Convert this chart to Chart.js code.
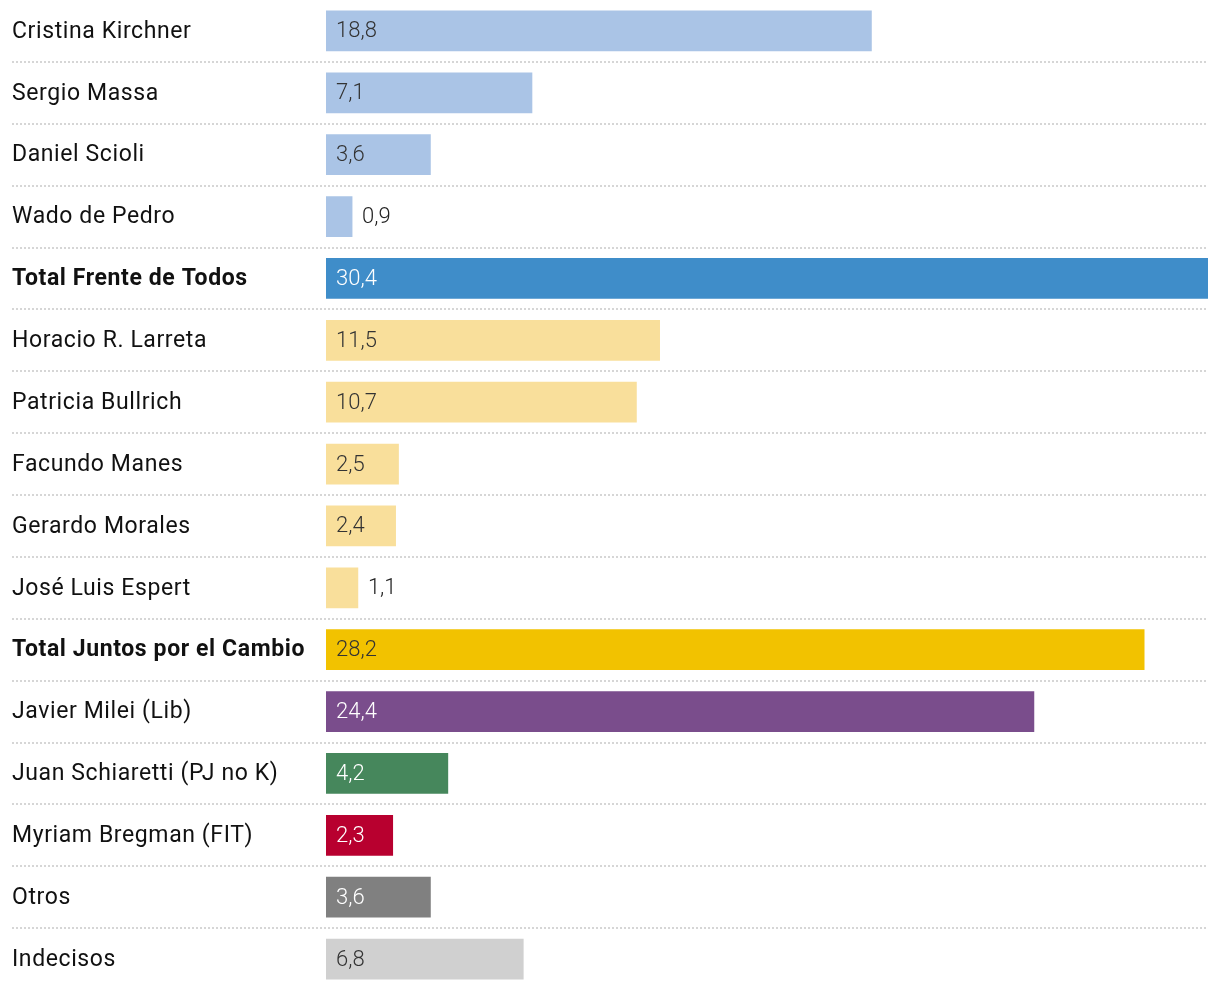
<!DOCTYPE html>
<html><head><meta charset="utf-8">
<script src="https://cdn.jsdelivr.net/npm/chart.js@4.4.0/dist/chart.umd.min.js"></script>
<style>html,body{margin:0;padding:0;background:#fff;}#wrap{width:1220px;height:990px;}</style>
</head><body><div id="wrap"><canvas id="c" width="1220" height="990"></canvas></div>
<script>
const categories = ["Cristina Kirchner","Sergio Massa","Daniel Scioli","Wado de Pedro","Total Frente de Todos","Horacio R. Larreta","Patricia Bullrich","Facundo Manes","Gerardo Morales","José Luis Espert","Total Juntos por el Cambio","Javier Milei (Lib)","Juan Schiaretti (PJ no K)","Myriam Bregman (FIT)","Otros","Indecisos"];
const values = [18.8,7.1,3.6,0.9,30.4,11.5,10.7,2.5,2.4,1.1,28.2,24.4,4.2,2.3,3.6,6.8];
const barColors = ["#aac4e6","#aac4e6","#aac4e6","#aac4e6","#3f8dc9","#f9df9b","#f9df9b","#f9df9b","#f9df9b","#f9df9b","#f2c200","#7a4d8c","#46875c","#b8002f","#808080","#d0d0d0"];
const valueColors = ["#333","#333","#333","#222","#fff","#333","#333","#333","#333","#222","#333","#fff","#fff","#fff","#fff","#333"];
const boldRows = [4,10];

const fmt = v => v.toFixed(1).replace('.', ',');

const sepPlugin = {
  id: 'sep',
  beforeDatasetsDraw(chart) {
    const {ctx, chartArea, scales} = chart;
    const y = scales.y;
    ctx.save();
    ctx.strokeStyle = '#d6d6d6';
    ctx.lineWidth = 2;
    ctx.setLineDash([2,2]);
    for (let i = 0; i < categories.length - 1; i++) {
      const yy = Math.round((y.getPixelForValue(i) + y.getPixelForValue(i+1)) / 2);
      ctx.beginPath();
      ctx.moveTo(12, yy);
      ctx.lineTo(chartArea.right, yy);
      ctx.stroke();
    }
    ctx.restore();
  }
};
const labelPlugin = {
  id: 'cats',
  afterDraw(chart) {
    const {ctx, scales} = chart;
    const y = scales.y;
    ctx.save();
    ctx.textBaseline = 'middle';
    ctx.textAlign = 'left';
    ctx.fillStyle = '#111';
    categories.forEach((name, i) => {
      const bold = boldRows.includes(i);
      ctx.font = (bold ? '700 ' : '400 ') + '23px Roboto';
      ctx.letterSpacing = '0.6px';
      ctx.fillText(name, 12, y.getPixelForValue(i) + 1);
    });
    ctx.restore();
  }
};
const valPlugin = {
  id: 'vals',
  afterDatasetsDraw(chart) {
    const {ctx} = chart;
    const meta = chart.getDatasetMeta(0);
    ctx.save();
    ctx.font = '300 22px Roboto';
    ctx.textBaseline = 'middle';
    ctx.textAlign = 'left';
    meta.data.forEach((bar, i) => {
      const w = bar.x - bar.base;
      const txt = fmt(values[i]);
      if (w < 45) {
        ctx.fillStyle = '#222';
        ctx.fillText(txt, bar.x + 10, bar.y + 1);
      } else {
        ctx.fillStyle = valueColors[i];
        ctx.fillText(txt, bar.base + 10, bar.y + 1);
      }
    });
    ctx.restore();
  }
};

new Chart(document.getElementById('c'), {
  type: 'bar',
  data: {
    labels: categories,
    datasets: [{ data: values, backgroundColor: barColors, barThickness: 40, borderWidth: 0 }]
  },
  options: {
    indexAxis: 'y',
    responsive: false,
    animation: false,
    layout: { padding: { left: 12, right: 12, top: 0, bottom: 0 } },
    plugins: { legend: { display: false }, tooltip: { enabled: false } },
    scales: {
      x: { display: false, min: 0, max: 30.4 },
      y: {
        grid: { display: false },
        border: { display: false },
        afterFit(scale) { scale.width = 314; },
        ticks: { display: false }
      }
    }
  },
  plugins: [sepPlugin, valPlugin, labelPlugin]
});
</script></body></html>
